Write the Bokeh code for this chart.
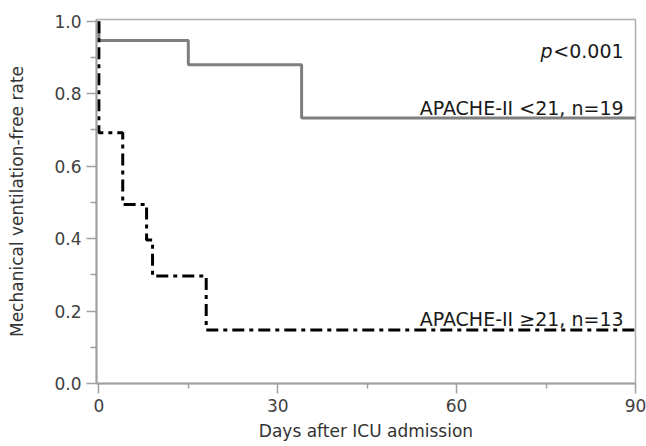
from bokeh.plotting import figure
from bokeh.models import FixedTicker, NumeralTickFormatter, ColumnDataSource
from bokeh.core.properties import value
from bokeh.embed import file_html
from bokeh.resources import INLINE

# ---- data ----
low_days = [0, 0, 15, 34, 90]
low_rate = [1.0, 0.947, 0.880, 0.733, 0.733]
high_days = [0, 0, 4, 8, 9, 18, 90]
high_rate = [1.0, 0.692, 0.494, 0.396, 0.297, 0.148, 0.148]
x_ticks = [0, 30, 60, 90]
x_minor = [15, 45, 75]
y_ticks = [0.0, 0.2, 0.4, 0.6, 0.8, 1.0]
y_minor = [0.1, 0.3, 0.5, 0.7, 0.9]
label_low = "APACHE-II <21, n=19"
label_high = "APACHE-II \u226521, n=13"
p_label = "<0.001"
label_x = [88, 88]
label_y = [0.762, 0.177]
p_pos = (88, 0.918)

FONT = "DejaVu Sans"
AXC = "#a0a0a0"

p = figure(width=646, height=446, output_backend="svg", toolbar_location=None,
           x_range=(-0.4, 90), y_range=(0, 1.005),
           min_border_left=96, min_border_right=11, min_border_top=19,
           min_border_bottom=63)
p.xgrid.visible = False
p.ygrid.visible = False
p.outline_line_color = "#b0b0b0"
p.outline_line_width = 1.5
p.background_fill_color = "white"
p.border_fill_color = "white"

p.step(low_days, low_rate, mode="after", line_color="#7f7f7f", line_width=3)
p.step(high_days, high_rate, mode="after", line_color="black", line_width=3,
       line_dash="12 5 4 5")

src = ColumnDataSource(dict(x=label_x, y=label_y, t=[label_low, label_high]))
p.text(x="x", y="y", text="t", source=src, text_align="right",
       text_baseline="alphabetic", text_font=value(FONT),
       text_font_size="19px", text_color="#1a1a1a")
p.text(x=[p_pos[0]], y=[p_pos[1]], text=[p_label], text_align="right",
       text_baseline="alphabetic", text_font=value(FONT),
       text_font_size="19px", text_color="#1a1a1a")
p.text(x=[p_pos[0]], y=[p_pos[1]], text=["p"], text_align="right",
       text_baseline="alphabetic", text_font=value(FONT),
       text_font_style="italic", x_offset=-71,
       text_font_size="19px", text_color="#1a1a1a")

xa = p.xaxis[0]
xa.ticker = FixedTicker(ticks=x_ticks, minor_ticks=x_minor)
xa.axis_label = "Days after ICU admission"
ya = p.yaxis[0]
ya.ticker = FixedTicker(ticks=y_ticks, minor_ticks=y_minor)
ya.formatter = NumeralTickFormatter(format="0.0")
ya.axis_label = "Mechanical ventilation-free rate"

for ax in (xa, ya):
    ax.axis_line_color = AXC
    ax.axis_line_width = 2
    ax.major_tick_line_color = AXC
    ax.major_tick_line_width = 1.5
    ax.minor_tick_line_color = AXC
    ax.minor_tick_line_width = 1.5
    ax.major_tick_out = 10
    ax.major_tick_in = 0
    ax.minor_tick_in = 0
    ax.major_label_text_font = FONT
    ax.major_label_text_font_size = "17px"
    ax.major_label_text_color = "#404040"
    ax.axis_label_text_font = FONT
    ax.axis_label_text_font_size = "17px"
    ax.axis_label_text_font_style = "normal"
    ax.axis_label_text_color = "#333333"

xa.minor_tick_out = 5
ya.minor_tick_out = 6
xa.major_label_standoff = 5
ya.major_label_standoff = 5
xa.axis_label_standoff = 6
ya.axis_label_standoff = 24

open("out.html", "w").write(file_html(p, INLINE))
